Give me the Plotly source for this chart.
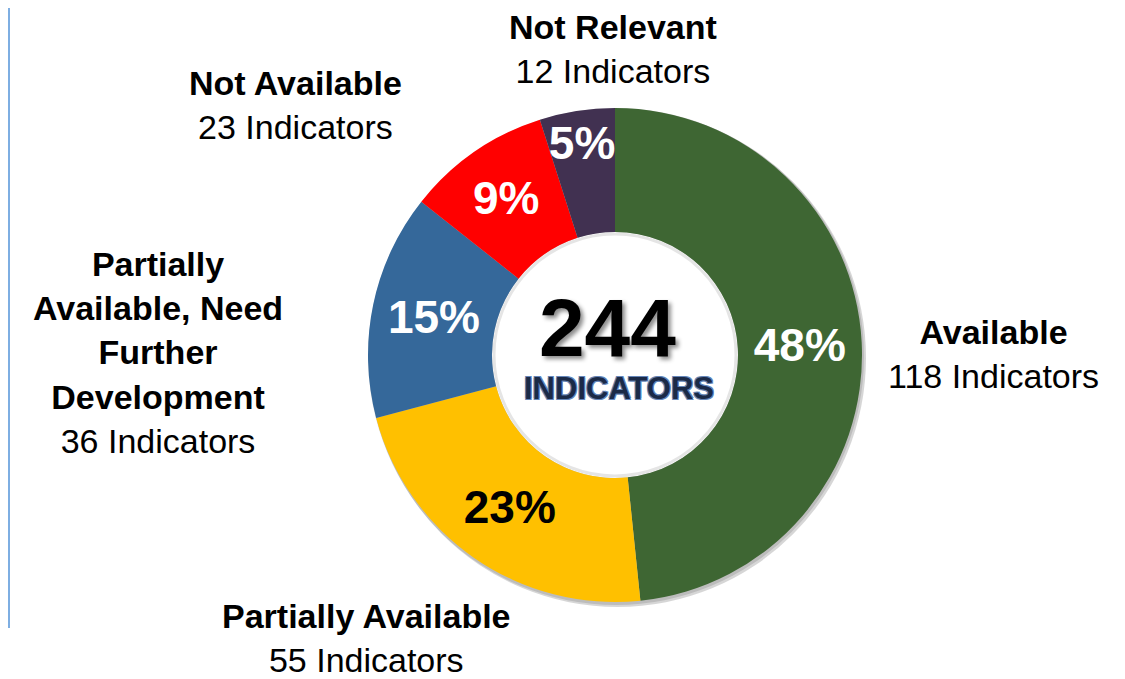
import plotly.graph_objects as go

# ---- data ----
categories = ["Available", "Partially Available",
              "Partially Available, Need Further Development",
              "Not Available", "Not Relevant"]
label_lines = ["Available", "Partially Available",
               "Partially<br>Available, Need<br>Further<br>Development",
               "Not Available", "Not Relevant"]
counts = [118, 55, 36, 23, 12]
colors = ["#3E6633", "#FFC000", "#35689A", "#FF0000", "#413151"]
pct_text_colors = ["white", "black", "white", "white", "white"]
center_word = "INDICATORS"

# The page body has an 8px margin, so the figure is drawn 8px in from the
# window's top-left; work in window pixels and convert.
OFF = 8
W, H = 1125 - OFF, 679 - OFF
FONT = "Liberation Sans, Arial, sans-serif"

# pie geometry (window pixels)
cx, cy, R = 615, 355, 247
hole_r = 123

def px(x):
    return (x - OFF) / W

def py(y):
    return 1 - (y - OFF) / H

fig = go.Figure()
fig.add_trace(go.Pie(
    labels=categories,
    values=counts,
    sort=False,
    direction="clockwise",
    rotation=0,
    hole=hole_r / R,
    marker=dict(colors=colors, line=dict(width=0)),
    texttemplate="%{percent:.0%}",
    textposition="inside",
    insidetextorientation="horizontal",
    insidetextfont=dict(family=FONT, size=46, color=pct_text_colors, weight="bold"),
    domain=dict(x=[px(cx - R), px(cx + R)], y=[py(cy + R), py(cy - R)]),
    hoverinfo="skip",
    showlegend=False,
))

# outer label blocks: (x, y) centre of block in window pixels
label_pos = [(993, 354), (366, 638), (158, 352), (295, 105), (613, 49)]
for lab, n, (x, y) in zip(label_lines, counts, label_pos):
    bold = "<br>".join(f"<b>{part}</b>" for part in lab.split("<br>"))
    fig.add_annotation(
        text=f"{bold}<br>{n} Indicators",
        x=px(x), y=py(y), xref="paper", yref="paper",
        xanchor="center", yanchor="middle", showarrow=False, align="center",
        borderpad=0,
        font=dict(family=FONT, size=34, color="black"),
    )

# centre text
fig.add_annotation(
    text=f"<b>{sum(counts)}</b>", x=px(607), y=py(327), xref="paper", yref="paper",
    xanchor="center", yanchor="middle", showarrow=False,
    font=dict(family=FONT, size=82, color="black",
              shadow="3px 3px 4px rgba(0,0,0,0.45)"),
)
outline = "#6485B8"
fig.add_annotation(
    text=f"<b>{center_word}</b>", x=px(619), y=py(388), xref="paper", yref="paper",
    xanchor="center", yanchor="middle", showarrow=False,
    font=dict(family=FONT, size=31, color="#1B2A47",
              shadow=f"-1px -1px 0 {outline}, 1px -1px 0 {outline}, -1px 1px 0 {outline}, 1px 1px 0 {outline}"),
)

shapes = [
    # soft drop shadow behind the donut
    dict(type="circle", xref="paper", yref="paper", layer="below",
         x0=px(cx - R + 1), x1=px(cx + R + 4), y0=py(cy + R + 5), y1=py(cy - R + 1),
         fillcolor="rgba(0,0,0,0.16)", line=dict(width=0)),
    dict(type="circle", xref="paper", yref="paper", layer="below",
         x0=px(cx - R), x1=px(cx + R + 2), y0=py(cy + R + 3), y1=py(cy - R),
         fillcolor="rgba(0,0,0,0.12)", line=dict(width=0)),
    # keep the hole white
    dict(type="circle", xref="paper", yref="paper", layer="below",
         x0=px(cx - hole_r), x1=px(cx + hole_r), y0=py(cy + hole_r), y1=py(cy - hole_r),
         fillcolor="white", line=dict(width=0)),
    # inner shadow ring at the hole
    dict(type="circle", xref="paper", yref="paper", layer="above",
         x0=px(cx - hole_r + 2), x1=px(cx + hole_r - 2),
         y0=py(cy + hole_r - 2), y1=py(cy - hole_r + 2),
         fillcolor="rgba(0,0,0,0)", line=dict(width=3, color="rgba(0,0,0,0.10)")),
    # left blue rule
    dict(type="line", xref="paper", yref="paper",
         x0=px(OFF + 1), x1=px(OFF + 1), y0=py(OFF), y1=py(628),
         line=dict(width=2, color="#7EAEE2")),
]

fig.update_layout(
    width=W, height=H,
    margin=dict(l=0, r=0, t=0, b=0),
    paper_bgcolor="white", plot_bgcolor="white",
    uniformtext=dict(mode="show", minsize=46),
    shapes=shapes,
)

fig.write_html("out.html")
